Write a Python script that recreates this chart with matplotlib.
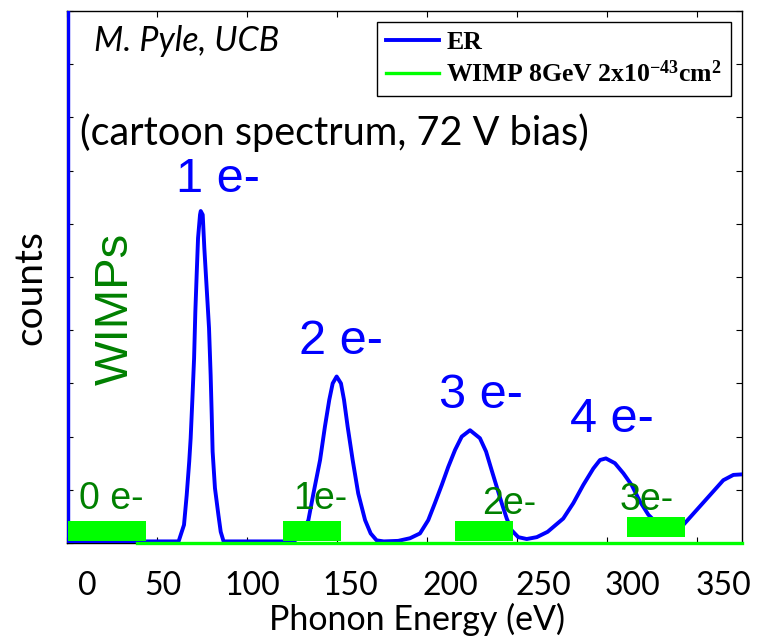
import matplotlib
matplotlib.use("Agg")
import matplotlib.pyplot as plt
from matplotlib.transforms import ScaledTranslation

plt.rcParams['mathtext.fontset'] = 'custom'
plt.rcParams['mathtext.rm'] = 'Liberation Serif:bold'
plt.rcParams['mathtext.bf'] = 'Liberation Serif:bold'
plt.rcParams['mathtext.it'] = 'Liberation Serif:bold'

# ---------------- data ----------------
er_energy = [0.7, 0.7, 62.0, 65.0, 66.5, 67.9, 68.7, 69.6, 70.6, 71.3, 72.1, 72.8,
             73.9, 74.3, 75.4, 76.3, 77.6, 78.9, 79.8, 80.4, 80.9, 82.2, 84.1, 85.4,
             87.0, 126.0, 130.0, 134.1, 136.9, 140.6, 143.3, 145.7, 147.6, 149.8,
             152.2, 153.9, 155.9, 158.7, 161.8, 165.6, 168.7, 172.0, 176.0, 184.0,
             190.6, 196.1, 200.7, 204.4, 208.2, 211.8, 215.6, 219.3, 223.9, 229.4,
             232.8, 235.9, 238.7, 241.5, 244.3, 247.0, 250.7, 255.4, 261.0, 267.0,
             275.7, 281.3, 286.8, 292.4, 296.1, 299.4, 304.4, 309.1, 313.7, 318.3,
             323.0, 327.5, 332.0, 337.0, 342.4, 349.8, 357.2, 364.6, 370.2, 375.0]
er_counts = [10.5, 0.03, 0.03, 0.34, 0.90, 1.53, 1.97, 2.66, 3.47, 4.35, 5.10, 5.73,
             6.17, 6.24, 6.17, 5.54, 4.79, 4.04, 3.16, 2.41, 1.72, 1.03, 0.53, 0.21,
             0.03, 0.03, 0.15, 0.43, 0.93, 1.56, 2.19, 2.69, 3.00, 3.13,
             3.00, 2.69, 2.19, 1.56, 0.93, 0.43, 0.18, 0.05, 0.03, 0.04,
             0.09, 0.18, 0.43, 0.75, 1.09, 1.43, 1.75, 2.00, 2.12, 1.97,
             1.72, 1.37, 1.06, 0.75, 0.46, 0.24, 0.11, 0.075, 0.11, 0.21,
             0.46, 0.75, 1.09, 1.40, 1.56, 1.59, 1.50, 1.31, 1.09, 0.78,
             0.53, 0.38, 0.28, 0.27, 0.34, 0.62, 0.90, 1.18, 1.28, 1.29]

wimp_energy = [39.0, 375.0]
wimp_counts = [0.0, 0.0]

# WIMP signal blocks (cartoon): bin edges and count range
wimp_bin_lo = [0.6, 119.8, 215.6, 310.9]
wimp_bin_hi = [44.0, 152.2, 247.6, 343.3]
wimp_bin_bottom = [0.04, 0.04, 0.04, 0.11]
wimp_bin_top = [0.42, 0.42, 0.41, 0.48]
wimp_bin_labels = ["0 e-", "1e-", "2e-", "3e-"]

er_peak_labels = ["1 e-", "2 e-", "3 e-", "4 e-"]

xticks = [0, 50, 100, 150, 200, 250, 300, 350]
xtick_labels = ["0", "50", "100", "150", "200", "250", "300", "350"]
yticks = list(range(0, 11))

# ---------------- figure ----------------
W, H = 761, 640
fig = plt.figure(figsize=(W / 100, H / 100), dpi=100)
ax = fig.add_axes([67 / W, 97 / H, 675 / W, 532 / H])
ax.set_xlim(0, 375)
ax.set_ylim(0, 10)

BLUE = (0, 0, 1)
LGREEN = (0, 1, 0)
DGREEN = (0, 0.5, 0)

ax.plot(er_energy, er_counts, color=BLUE, lw=2.8, label="ER", zorder=3,
        solid_joinstyle='round')
ax.plot(wimp_energy, wimp_counts, color=LGREEN, lw=2.4, zorder=4, clip_on=False,
        label=r"WIMP 8GeV 2x10$^{\mathbf{-43}}$cm$^{\mathbf{2}}$")

widths = [h - l for l, h in zip(wimp_bin_lo, wimp_bin_hi)]
heights = [t - b for b, t in zip(wimp_bin_bottom, wimp_bin_top)]
ax.bar(wimp_bin_lo, heights, width=widths, bottom=wimp_bin_bottom, align='edge',
       color=LGREEN, edgecolor='none', zorder=5)

# axes styling
ax.set_xticks(xticks)
ax.set_xticklabels(xtick_labels, fontfamily='Lato', fontsize=23)
ax.set_yticks(yticks)
ax.set_yticklabels([])
ax.tick_params(axis='both', direction='in', length=4, width=0.8,
               top=True, right=True, color='black')
ax.tick_params(axis='x', pad=20)
for s in ax.spines.values():
    s.set_linewidth(1.0)

# shift the tick labels like in the reference slide
shift_px = [20, 6, 5, 13, 23, 26, 25, 26]
for lbl, dx in zip(ax.get_xticklabels(), shift_px):
    lbl.set_transform(lbl.get_transform() + ScaledTranslation(dx / 100, 0, fig.dpi_scale_trans))

ax.set_xlabel("Phonon Energy (eV)", fontfamily='Lato', fontsize=24.5)
ax.xaxis.set_label_coords((417 - 67) / 675, -(603 - 543) / 532)
ax.xaxis.label.set_verticalalignment('top')

fig.text(30 / W, 1 - 288 / H, "counts", rotation=90, ha='center', va='center',
         fontfamily='Lato', fontsize=28)

# legend
leg = ax.legend(loc='upper left', bbox_to_anchor=((377 - 67) / 675, (543 - 22) / 532),
                prop={'family': 'Liberation Serif', 'weight': 'bold', 'size': 18.5},
                fancybox=False, framealpha=1, edgecolor='black', borderaxespad=0,
                handlelength=2.05, handletextpad=0.3, labelspacing=0.25, borderpad=0.35)
leg.get_frame().set_linewidth(1.0)

# annotations
def px(xp, yp):
    return ((xp - 67) / 675, (543 - yp) / 532)

ax.text(*px(94, 51), "M. Pyle, UCB", transform=ax.transAxes, fontfamily='Lato',
        style='italic', fontsize=24.5, ha='left', va='baseline')
ax.text(*px(80, 145), "(cartoon spectrum, 72 V bias)", transform=ax.transAxes,
        fontfamily='Lato', fontsize=28.5, ha='left', va='baseline')

peak_label_pos = [(218, 179), (341, 342), (481, 395), (612, 420)]
for t, (xp, yp) in zip(er_peak_labels, peak_label_pos):
    ax.text(*px(xp, yp), t, transform=ax.transAxes, fontfamily='Liberation Sans',
            fontsize=35, color=BLUE, ha='center', va='center', zorder=6)

bin_label_pos = [(111, 499), (320, 499), (509, 504), (647, 500)]
for t, (xp, yp) in zip(wimp_bin_labels, bin_label_pos):
    ax.text(*px(xp, yp), t, transform=ax.transAxes, fontfamily='Liberation Sans',
            fontsize=27, color=DGREEN, ha='center', va='center', zorder=6)

ax.text(*px(116, 309), "WIMPs", transform=ax.transAxes, fontfamily='Liberation Sans',
        fontsize=34, color=DGREEN, rotation=90, ha='center', va='center', zorder=6)

fig.savefig("out.png", dpi=100)
